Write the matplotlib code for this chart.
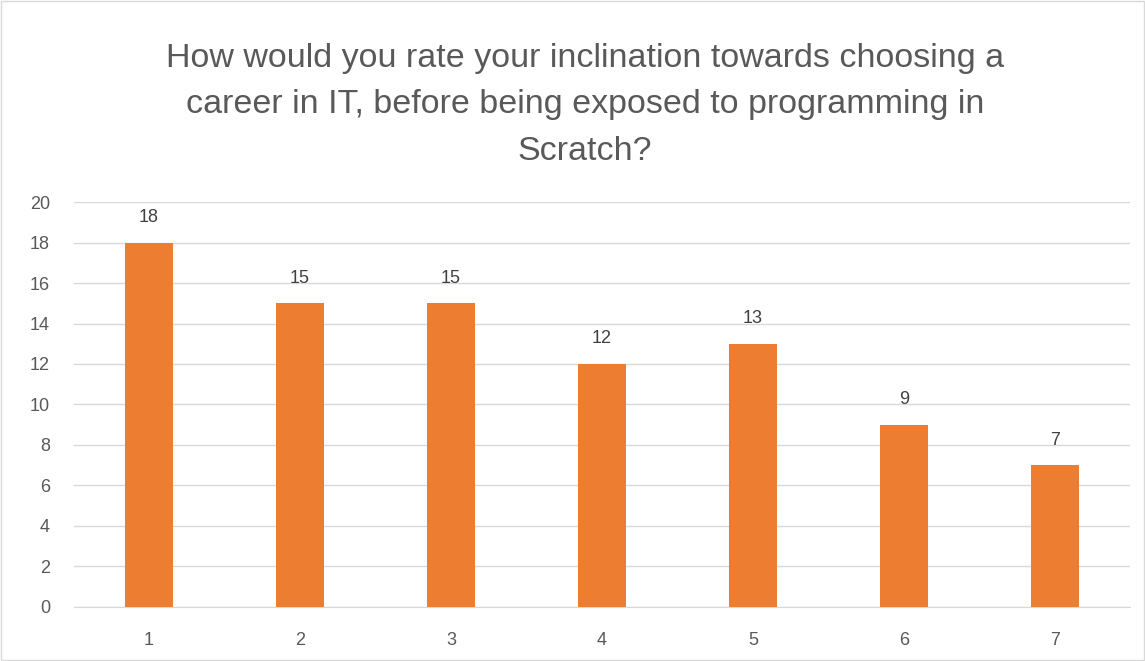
import matplotlib.pyplot as plt

categories = ["1", "2", "3", "4", "5", "6", "7"]
counts = [18, 15, 15, 12, 13, 9, 7]
title = ("How would you rate your inclination towards choosing a\n"
         "career in IT, before being exposed to programming in\n"
         "Scratch?")

plt.rcParams["font.family"] = ["Liberation Sans", "DejaVu Sans"]
text_color = "#595959"

fig = plt.figure(figsize=(11.45, 6.61), dpi=100)
ax = fig.add_axes([0.0642, 0.0817, 0.9231, 0.6127])

x = range(1, len(categories) + 1)
bars = ax.bar(x, counts, width=0.32, color="#ED7D31", zorder=3)
for b, v in zip(bars, counts):
    ax.annotate(str(v), (b.get_x() + b.get_width() / 2, v), xytext=(0, 12),
                textcoords="offset points", ha="center", va="bottom",
                fontsize=13, color="#404040")

ax.set_xlim(0.5, 7.5)
ax.set_ylim(0, 20)
ax.set_yticks(range(0, 21, 2))
ax.set_xticks(list(x))
ax.set_xticklabels(categories)
ax.grid(axis="y", color="#D9D9D9", linewidth=1, zorder=0)
for s in ["top", "right", "left"]:
    ax.spines[s].set_visible(False)
ax.spines["bottom"].set_color("#D9D9D9")
ax.tick_params(axis="both", length=0, labelsize=13, colors=text_color)
ax.tick_params(axis="x", pad=18)
ax.tick_params(axis="y", pad=17)

fig.text(0.511, 0.935, title, ha="center", va="top", fontsize=24.5,
         color=text_color, linespacing=1.64)

fig.patches.append(plt.Rectangle((0.001, 0.001), 0.998, 0.998, transform=fig.transFigure,
                                 fill=False, edgecolor="#D9D9D9", linewidth=1))

fig.savefig("out.png", dpi=100)
